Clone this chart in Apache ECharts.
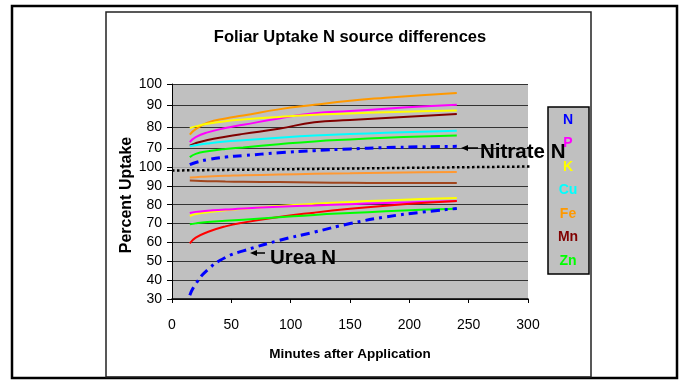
<!DOCTYPE html>
<html>
<head>
<meta charset="utf-8">
<title>Foliar Uptake N source differences</title>
<script src="https://cdn.jsdelivr.net/npm/echarts@6/dist/echarts.min.js"></script>
<style>
  html, body { margin: 0; padding: 0; background: #fff; }
  #chart { width: 685px; height: 380px; }
</style>
</head>
<body>
<div id="chart"></div>
<script>
// sampling times (minutes after application)
const minutes = [15, 20, 30, 45, 60, 90, 120, 150, 180, 210, 240]

// nitrate N source (upper panel)
const nitrateFe = [76.5, 79, 82, 84, 85.3, 88.2, 90.3, 92.2, 93.6, 94.8, 95.8]
const nitrateP = [73, 75.3, 77.5, 79.5, 81, 84, 86.4, 87.4, 88.5, 89.5, 90.3]
const nitrateK = [79.5, 80.3, 81.5, 82.7, 83.5, 84.7, 85.7, 86.3, 86.9, 87.3, 87.7]
const nitrateMn = [71.3, 72.5, 74, 75.5, 76.8, 79.2, 82.2, 83.2, 84.2, 85.1, 86]
const nitrateCu = [71, 71.5, 72.3, 73.2, 73.8, 75, 76, 76.7, 77.3, 77.8, 78.3]
const nitrateZn = [66, 67.5, 68.7, 69.8, 70.5, 72, 73.3, 74.2, 75, 75.6, 76.1]
const nitrateN = [62.5, 63.5, 64.8, 66, 66.7, 68, 69, 69.8, 70.4, 70.8, 71]

// urea N source (lower panel)
const ureaFe = [94.4, 94.6, 95, 95.3, 95.6, 96, 96.4, 96.7, 97, 97.2, 97.3]
const ureaMn = [92.8, 92.7, 92.5, 92.3, 92.2, 92, 91.8, 91.6, 91.5, 91.5, 91.5]
const ureaK = [74, 75, 76, 77, 77.8, 79.3, 80.5, 81.5, 82.3, 83, 83.6]
const ureaP = [75.6, 76.2, 76.8, 77.4, 78, 78.9, 79.6, 80.3, 80.9, 81.5, 82]
const ureaCu = [59.5, 62.5, 65.5, 68.5, 70.5, 73.5, 75.8, 77.8, 79.5, 80.9, 82]
const ureaZn = [69.6, 70.1, 70.8, 71.5, 72, 73.3, 74.6, 75.6, 76.5, 77.3, 77.9]
const ureaN = [32, 38, 45.5, 52, 55.5, 61, 65.5, 70, 73.5, 76, 78]

const legendNames = ['N', 'P', 'K', 'Cu', 'Fe', 'Mn', 'Zn']
const xTicks = [0, 50, 100, 150, 200, 250, 300]

const FONT = "'Liberation Sans', Arial, sans-serif"
const colors = {
  N: '#0000ff', P: '#ff00ff', K: '#ffff00', Cu: '#00ffff',
  Fe: '#ff9900', Mn: '#800000', Zn: '#00ff00'
}

const chart = echarts.init(document.getElementById('chart'))

function pairs(values) {
  return minutes.map((m, i) => [m, values[i]])
}

function lineSeries(name, values, color, panel, dashed) {
  return {
    name: name,
    type: 'line',
    xAxisIndex: panel,
    yAxisIndex: panel,
    data: pairs(values),
    smooth: true,
    showSymbol: false,
    symbol: 'none',
    lineStyle: dashed
      ? { color: color, width: 3, type: [9, 5, 3, 5] }
      : { color: color, width: 2 },
    itemStyle: { color: color },
    emphasis: { disabled: true }
  }
}

const gridLine = '#333'

const option = {
  animation: false,
  textStyle: { fontFamily: FONT },
  grid: [
    { left: 172, right: 157, top: 84, height: 86, show: true, backgroundColor: '#c0c0c0', borderWidth: 0 },
    { left: 172, right: 157, top: 167, height: 132, show: true, backgroundColor: '#c0c0c0', borderWidth: 0 }
  ],
  xAxis: [
    { type: 'value', gridIndex: 0, min: 0, max: 300, interval: 50, show: false },
    {
      type: 'value', gridIndex: 1, min: 0, max: 300, interval: 50,
      axisLine: { show: true, lineStyle: { color: '#000', width: 1.5 } },
      axisTick: { show: true, length: 4, lineStyle: { color: '#000' } },
      axisLabel: { color: '#000', fontSize: 14, margin: 19, fontFamily: FONT,
        formatter: v => xTicks.includes(v) ? String(v) : '' },
      splitLine: { show: false },
      name: 'Minutes after Application',
      nameLocation: 'middle',
      nameGap: 48,
      nameTextStyle: { color: '#000', fontSize: 13.5, fontWeight: 'bold', fontFamily: FONT }
    }
  ],
  yAxis: [
    {
      type: 'value', gridIndex: 0, min: 60, max: 100, interval: 10,
      axisLine: { show: true, lineStyle: { color: '#000', width: 1 } },
      axisTick: { show: true, length: 5, lineStyle: { color: '#000' } },
      axisLabel: { color: '#000', fontSize: 14, margin: 10, fontFamily: FONT,
        formatter: v => v === 60 ? '' : String(v) },
      splitLine: { show: true, lineStyle: { color: ['rgba(0,0,0,0)', gridLine, gridLine, gridLine, gridLine], width: 1 } }
    },
    {
      type: 'value', gridIndex: 1, min: 30, max: 100, interval: 10,
      axisLine: { show: true, lineStyle: { color: '#000', width: 1 } },
      axisTick: { show: true, length: 5, lineStyle: { color: '#000' } },
      axisLabel: { color: '#000', fontSize: 14, margin: 10, fontFamily: FONT },
      splitLine: { show: true, lineStyle: { color: [gridLine, gridLine, gridLine, gridLine, gridLine, gridLine, gridLine, '#a8a8a8'], width: 1 } }
    }
  ],
  legend: {
    orient: 'vertical',
    left: 548,
    top: 107,
    itemWidth: 0,
    itemHeight: 0,
    itemGap: 9.5,
    padding: [6, 6, 6, 0],
    backgroundColor: '#c0c0c0',
    borderColor: '#000',
    borderWidth: 1.5,
    selectedMode: false,
    formatter: '{a|{name}}',
    textStyle: {
      fontFamily: FONT,
      fontWeight: 'bold',
      fontSize: 14,
      rich: { a: { width: 30, align: 'center', lineHeight: 14, fontWeight: 'bold', fontSize: 14, fontFamily: FONT } }
    },
    data: legendNames.map(n => ({ name: n, icon: 'rect', textStyle: { color: colors[n] } }))
  },
  series: [
    lineSeries('Fe', nitrateFe, colors.Fe, 0),
    lineSeries('P', nitrateP, colors.P, 0),
    lineSeries('K', nitrateK, colors.K, 0),
    lineSeries('Mn', nitrateMn, colors.Mn, 0),
    lineSeries('Cu', nitrateCu, colors.Cu, 0),
    lineSeries('Zn', nitrateZn, colors.Zn, 0),
    lineSeries('N', nitrateN, colors.N, 0, true),
    lineSeries('Fe', ureaFe, '#ff9933', 1),
    lineSeries('Mn', ureaMn, '#a0461e', 1),
    lineSeries('K', ureaK, colors.K, 1),
    lineSeries('P', ureaP, colors.P, 1),
    lineSeries('Cu', ureaCu, '#ff0000', 1),
    lineSeries('Zn', ureaZn, colors.Zn, 1),
    lineSeries('N', ureaN, colors.N, 1, true)
  ],
  graphic: [
    // frames
    { type: 'rect', silent: true, shape: { x: 12, y: 6, width: 665, height: 372 },
      style: { fill: 'none', stroke: '#000', lineWidth: 2.5 }, z: 100 },
    { type: 'rect', silent: true, shape: { x: 106, y: 12, width: 485, height: 365 },
      style: { fill: 'none', stroke: '#222', lineWidth: 1.5 }, z: 100 },
    // break between the two panels
    { type: 'line', silent: true, shape: { x1: 172, y1: 170.5, x2: 530, y2: 166.5 },
      style: { stroke: '#000', lineWidth: 2.5, lineDash: [2.5, 2.5] }, z: 100 },
    // title and y name
    { type: 'text', silent: true, style: { text: 'Foliar Uptake N source differences', x: 350, y: 37,
      textAlign: 'center', textVerticalAlign: 'middle', font: 'bold 16.5px ' + FONT, fill: '#000' }, z: 100 },
    { type: 'text', silent: true, rotation: Math.PI / 2, x: 127, y: 195,
      style: { text: 'Percent Uptake', x: 0, y: 0, textAlign: 'center', textVerticalAlign: 'middle',
        font: 'bold 16px ' + FONT, fill: '#000' }, z: 100 },
    // annotations
    { type: 'text', silent: true, style: { text: 'Nitrate N', x: 480, y: 152,
      textAlign: 'left', textVerticalAlign: 'middle', font: 'bold 20.5px ' + FONT, fill: '#000' }, z: 100 },
    { type: 'line', silent: true, shape: { x1: 478, y1: 148, x2: 466, y2: 148 },
      style: { stroke: '#000', lineWidth: 1.5 }, z: 100 },
    { type: 'polygon', silent: true, shape: { points: [[461, 148], [468, 145], [468, 151]] },
      style: { fill: '#000' }, z: 100 },
    { type: 'text', silent: true, style: { text: 'Urea N', x: 270, y: 258,
      textAlign: 'left', textVerticalAlign: 'middle', font: 'bold 20.5px ' + FONT, fill: '#000' }, z: 100 },
    { type: 'line', silent: true, shape: { x1: 265, y1: 253, x2: 255, y2: 253 },
      style: { stroke: '#000', lineWidth: 1.5 }, z: 100 },
    { type: 'polygon', silent: true, shape: { points: [[250, 253], [257, 250], [257, 256]] },
      style: { fill: '#000' }, z: 100 }
  ]
}

chart.setOption(option)
</script>
</body>
</html>
